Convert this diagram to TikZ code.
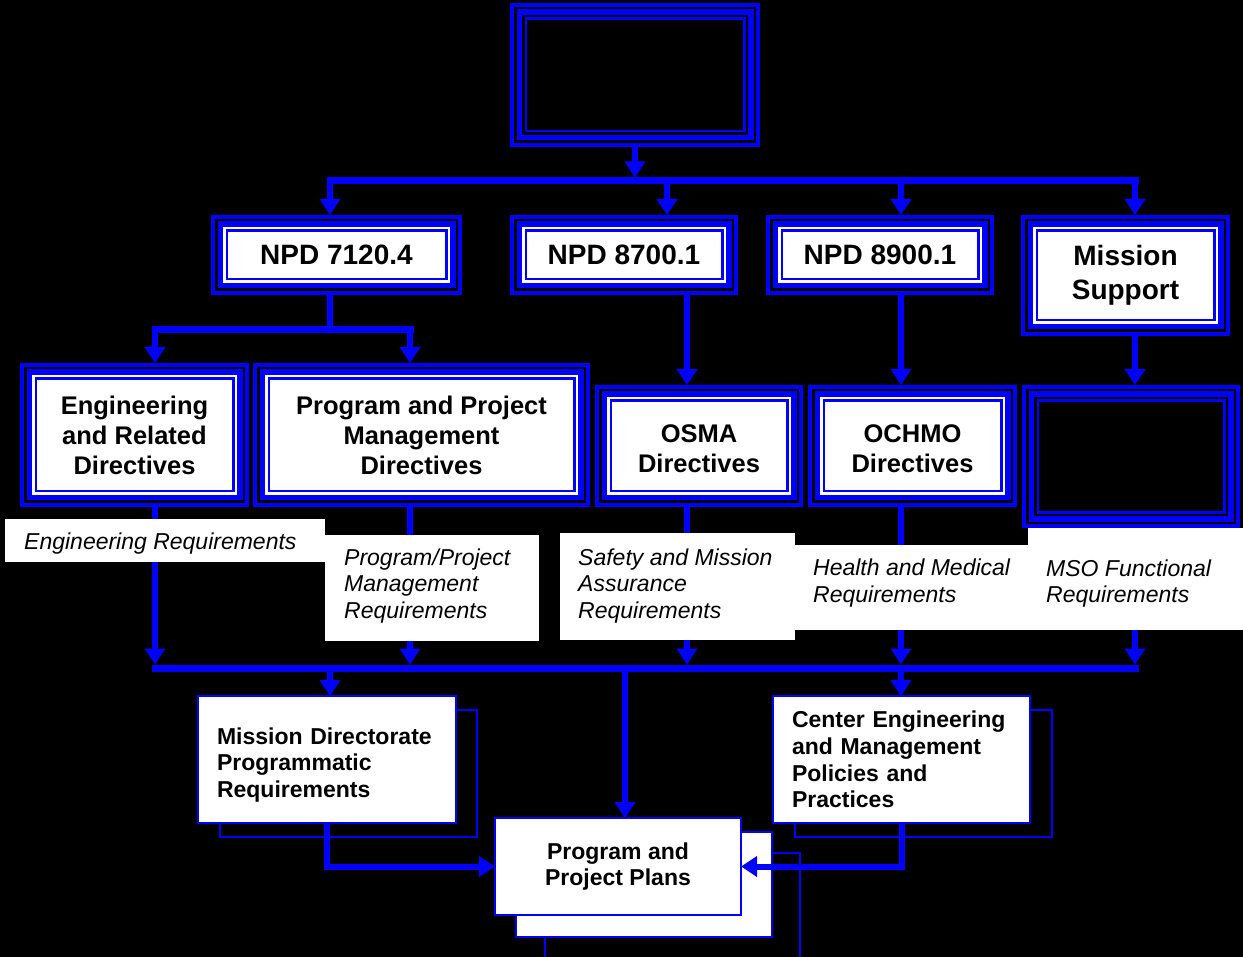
\documentclass[tikz,border=0pt]{standalone}
\usepackage{fontspec}
\setmainfont{Liberation Sans}
\usetikzlibrary{arrows.meta,calc}
\definecolor{bblue}{RGB}{0,0,255}
\newcommand\bandfill[2]{\fill[#2] ([shift={(#1,-#1)}]path picture bounding box.north west) rectangle ([shift={(-#1,#1)}]path picture bounding box.south east);}
\tikzset{
  tribox/.style={fill=bblue, inner sep=0pt, outer sep=0pt, align=center,
    path picture={\bandfill{4pt}{black}\bandfill{6.5pt}{bblue}\bandfill{12pt}{#1}\bandfill{14.5pt}{bblue}\bandfill{17pt}{#1}}},
  bigf/.style={font=\fontsize{28}{34}\selectfont\bfseries},
  midf/.style={font=\fontsize{25.5}{30}\selectfont\bfseries},
  smlf/.style={font=\fontsize{23}{26.6}\selectfont\bfseries},
  labf/.style={font=\fontsize{23}{26.5}\selectfont\itshape, inner sep=0pt, anchor=west, align=left},
  labbox/.style={fill=white, draw=none, inner sep=0pt, outer sep=0pt},
  frontbox/.style={fill=white, draw=bblue, line width=2.8pt, inner sep=0pt, outer sep=0pt},
  backbox/.style={draw=bblue, line width=2.8pt, inner sep=0pt, outer sep=0pt},
  arr/.style={draw=bblue, line width=6pt, -{Triangle[length=16pt,width=20pt]}},
  stem/.style={draw=bblue, line width=6pt},
  bus/.style={draw=bblue, line width=7pt, line cap=rect},
  thinl/.style={draw=bblue, line width=2.8pt},
}
\begin{document}
\begin{tikzpicture}[x={(1pt,0pt)}, y={(0pt,-1pt)}]
\useasboundingbox (0,0) rectangle (1243,957);
\fill[black] (0,0) rectangle (1243,957);

% ---- boxes, rows 1-3
\node[tribox=black, minimum width=250pt, minimum height=144pt] (top) at (635,75) {};
\node[tribox=white, bigf, minimum width=251pt, minimum height=80pt] (npdA) at (336.5,255) {NPD 7120.4};
\node[tribox=white, bigf, minimum width=228pt, minimum height=80pt] (npdB) at (624,255) {NPD 8700.1};
\node[tribox=white, bigf, minimum width=228pt, minimum height=80pt] (npdC) at (880,255) {NPD 8900.1};
\node[tribox=white, bigf, minimum width=209pt, minimum height=121pt] (ms) at (1125.5,275.5) {Mission\\Support};
\node[tribox=white, midf, minimum width=229pt, minimum height=144pt] (eng) at (134.5,435) {Engineering\\and Related\\Directives};
\node[tribox=white, midf, minimum width=337pt, minimum height=144pt] (ppm) at (421.5,435) {Program and Project\\Management\\Directives};
\node[tribox=white, midf, minimum width=208pt, minimum height=122pt] (osma) at (699,446) {\rule{0pt}{24pt}OSMA\\Directives};
\node[tribox=white, midf, minimum width=209pt, minimum height=122pt] (ochmo) at (912.5,446) {\rule{0pt}{24pt}OCHMO\\Directives};
\node[tribox=black, minimum width=218pt, minimum height=143pt] (rbox) at (1131,456.5) {};

% ---- coordinates of the buses
\coordinate (b1a) at (330,181);
\coordinate (b1b) at (667,181);
\coordinate (b1c) at (901,181);
\coordinate (b1d) at (1135,181);
\coordinate (brM) at (330,330);
\coordinate (brL) at (155,330);
\coordinate (brR) at (410,330);
\coordinate (b2a) at (155,668);
\coordinate (b2b) at (410,668);
\coordinate (b2c) at (687,668);
\coordinate (b2d) at (901,668);
\coordinate (b2e) at (1135,668);
\coordinate (b2m) at (330,668);
\coordinate (b2p) at (625,668);
\coordinate (outA) at (545,962);
\coordinate (outB) at (800,962);

% ---- top bus
\draw[bus] (b1a) -- (b1d);
\draw[arr] (top.south) -- ($(top.south |- b1a)+(0,-3.5)$);
\draw[arr] (b1a) -- (b1a |- npdA.north);
\draw[arr] (b1b) -- (b1b |- npdB.north);
\draw[arr] (b1c) -- (b1c |- npdC.north);
\draw[arr] (b1d) -- (b1d |- ms.north);

% ---- row 2 to row 3
\draw[stem] (brM |- npdA.south) -- (brM);
\draw[bus] (brL) -- (brR);
\draw[arr] (brL) -- (brL |- eng.north);
\draw[arr] (brR) -- (brR |- ppm.north);
\draw[arr] (b2c |- npdB.south) -- (b2c |- osma.north);
\draw[arr] (b2d |- npdC.south) -- (b2d |- ochmo.north);
\draw[arr] (b2e |- ms.south) -- (b2e |- rbox.north);

% ---- row 3 to lower bus
\draw[arr] (b2a |- eng.south) -- ($(b2a)+(0,-3.5)$);
\draw[arr] (b2b |- ppm.south) -- ($(b2b)+(0,-3.5)$);
\draw[arr] (b2c |- osma.south) -- ($(b2c)+(0,-3.5)$);
\draw[arr] (b2d |- ochmo.south) -- ($(b2d)+(0,-3.5)$);
\draw[arr] (b2e |- rbox.south) -- ($(b2e)+(0,-3.5)$);
\draw[bus] (b2a) -- (b2e);

% ---- requirement labels
\node[labbox, minimum width=320pt, minimum height=43pt] (engreq) at (165,540.5) {};
\node[labbox, minimum width=214pt, minimum height=106pt] (ppreq) at (432,588) {};
\node[labbox, minimum width=235pt, minimum height=107pt] (sreq) at (677.5,586.5) {};
\node[labbox, minimum width=233pt, minimum height=85pt] (hreq) at (911.5,587.5) {};
\node[labbox, minimum width=215pt, minimum height=102pt] (msoreq) at (1135.5,579) {};
\node[labf] (engreqt) at (24,544) {Engineering Requirements};
\node[labf] (ppreqt) at (344,586) {Program/Project\\Management\\Requirements};
\node[labf] (sreqt) at (578,586) {Safety and Mission\\Assurance\\Requirements};
\node[labf] (hreqt) at (813,583) {Health and Medical\\Requirements};
\node[labf] (msoreqt) at (1046,583.5) {MSO Functional\\Requirements};

% ---- row 4
\node[backbox, fill=black, minimum width=257pt, minimum height=127pt] (mdb) at (348.5,773.5) {};
\node[frontbox, smlf, minimum width=258pt, minimum height=127pt, text width=220pt, inner xsep=19pt, align=left] (md) at (327,759.5) {\rule{0pt}{27pt}Mission Directorate\\Programmatic\\Requirements};
\node[backbox, fill=black, minimum width=257pt, minimum height=127pt] (ceb) at (923.5,773.5) {};
\node[frontbox, smlf, minimum width=257pt, minimum height=127pt, text width=219pt, inner xsep=19pt, align=left] (ce) at (901.5,759.5) {Center Engineering\\and Management\\Policies and\\Practices};
\node[backbox, fill=white, minimum width=256pt, minimum height=105pt] (ppb) at (644,884.5) {};
\node[frontbox, smlf, minimum width=246pt, minimum height=97pt, align=center] (pp) at (618,866.5) {Program and\\Project Plans};

\draw[arr] (b2m) -- (b2m |- md.north);
\draw[arr] (b2d) -- (b2d |- ce.north);
\draw[arr] (b2p) -- (b2p |- pp.north);
\draw[arr] (md.south) |- (pp.west);
\draw[arr] (ce.south) |- (pp.east);
\draw[thinl] (outA |- ppb.south) -- (outA);
\draw[thinl] ($(ppb.north east)+(0,21)$) -| (outB);
\end{tikzpicture}
\end{document}
